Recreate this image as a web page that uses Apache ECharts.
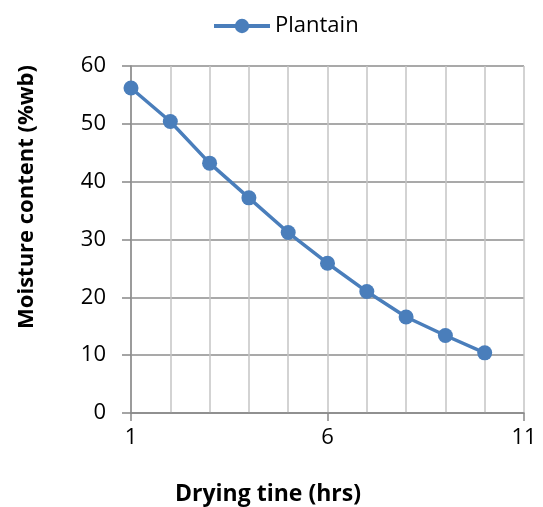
<!DOCTYPE html>
<html>
<head>
<meta charset="utf-8">
<script src="https://cdn.jsdelivr.net/npm/echarts@6/dist/echarts.min.js"></script>
<style>
  html, body { margin: 0; padding: 0; background: #fff; }
  #chart { width: 543px; height: 507px; }
</style>
</head>
<body>
<div id="chart"></div>
<script>
// drying time (hrs) and moisture content (%wb)
var hours = [1, 2, 3, 4, 5, 6, 7, 8, 9, 10];
var plantain = [56.2, 50.4, 43.2, 37.2, 31.2, 25.9, 21.0, 16.6, 13.4, 10.4];
var xTickLabels = [1, 6, 11];

var points = [];
for (var i = 0; i < hours.length; i++) {
    points.push([hours[i], plantain[i]]);
}

var font = '"Open Sans", sans-serif';
var chart = echarts.init(document.getElementById('chart'));

var option = {
    animation: false,
    legend: {
        top: 10,
        left: 207,
        itemWidth: 56,
        itemHeight: 18,
        itemGap: 5,
        lineStyle: { width: 4 },
        textStyle: { fontFamily: font, fontSize: 22, color: '#000' },
        data: ['Plantain']
    },
    grid: { left: 131, right: 19, top: 66, bottom: 94 },
    xAxis: [
        {
            type: 'value',
            min: 1,
            max: 11,
            interval: 1,
            axisLine: { show: true, lineStyle: { color: '#888', width: 1.5 } },
            axisTick: {
                show: true,
                customValues: xTickLabels,
                length: 8,
                lineStyle: { color: '#888', width: 1.5 }
            },
            axisLabel: {
                customValues: xTickLabels,
                fontFamily: font,
                fontSize: 22,
                color: '#000',
                margin: 14
            },
            splitLine: { show: false }
        },
        {
            // only draws the light vertical grid lines at every hour
            type: 'value',
            position: 'bottom',
            min: 1,
            max: 11,
            interval: 1,
            axisLine: { show: false },
            axisTick: { show: false },
            axisLabel: { show: false },
            splitLine: { show: true, lineStyle: { color: '#c4c4c4', width: 1.5 } }
        }
    ],
    yAxis: {
        type: 'value',
        min: 0,
        max: 60,
        interval: 10,
        axisLine: { show: true, lineStyle: { color: '#888', width: 1.5 } },
        axisTick: { show: true, length: 9, lineStyle: { color: '#888', width: 1.5 } },
        axisLabel: { fontFamily: font, fontSize: 22, color: '#000', margin: 25 },
        splitLine: { show: true, lineStyle: { color: '#8c8c8c', width: 1.5 } }
    },
    graphic: [
        {
            type: 'text',
            x: 268,
            y: 494,
            style: {
                text: 'Drying tine (hrs)',
                font: 'bold 23px ' + font,
                fill: '#000',
                align: 'center',
                verticalAlign: 'middle'
            }
        },
        {
            type: 'text',
            x: 27,
            y: 197,
            rotation: Math.PI / 2,
            style: {
                text: 'Moisture content (%wb)',
                font: 'bold 22px ' + font,
                fill: '#000',
                align: 'center',
                verticalAlign: 'middle'
            }
        }
    ],
    series: [
        {
            name: 'Plantain',
            type: 'line',
            data: points,
            symbol: 'circle',
            symbolSize: 15,
            lineStyle: { color: '#4a7ebb', width: 3.5 },
            itemStyle: { color: '#4a7ebb' }
        }
    ]
};

chart.setOption(option);
</script>
</body>
</html>
